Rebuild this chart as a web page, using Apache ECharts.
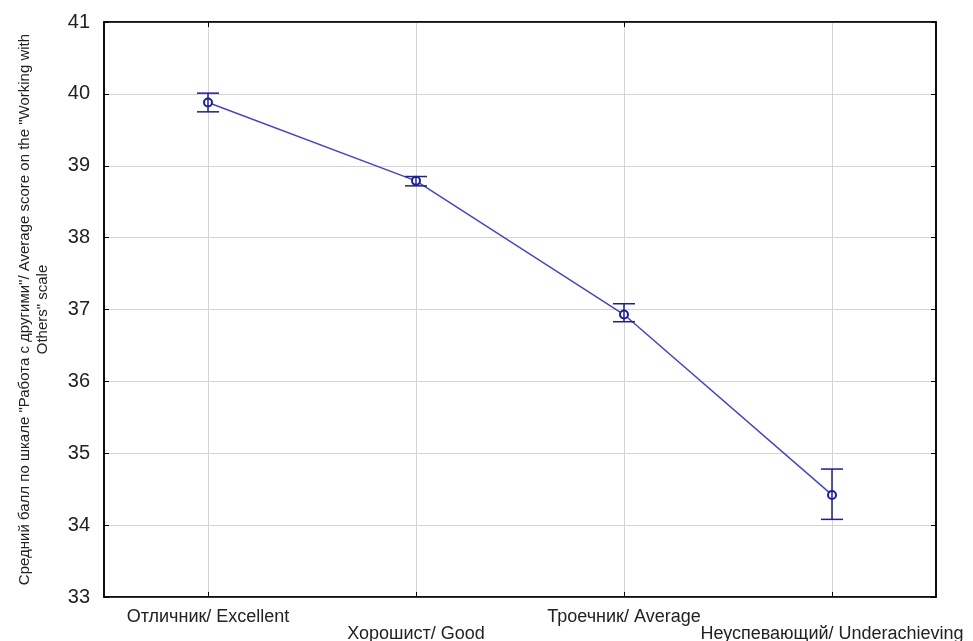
<!DOCTYPE html>
<html>
<head>
<meta charset="utf-8">
<script src="https://cdn.jsdelivr.net/npm/echarts@6/dist/echarts.min.js"></script>
<style>html,body{margin:0;padding:0;background:#fff;}#c{width:973px;height:641px;}</style>
</head>
<body>
<div id="c"></div>
<script>
const categories = ['Отличник/ Excellent', 'Хорошист/ Good', 'Троечник/ Average', 'Неуспевающий/ Underachieving'];
const means = [39.88, 38.79, 36.93, 34.42];
const lower = [39.75, 38.72, 36.83, 34.08];
const upper = [40.01, 38.85, 37.08, 34.78];
const yTicks = { min: 33, max: 41, interval: 1 };
const yName = 'Средний балл по шкале "Работа с другими"/ Average score on the "Working with\nOthers" scale';

const errData = categories.map((c, i) => [i, lower[i], upper[i]]);
const chart = echarts.init(document.getElementById('c'), null, { renderer: 'canvas' });
const font = 'Liberation Sans, Arial, sans-serif';
chart.setOption({
  backgroundColor: '#ffffff',
  animation: false,
  grid: { left: 104, right: 37, top: 22, bottom: 44, outerBoundsMode: 'none', containLabel: false, show: true, borderColor: '#000', borderWidth: 1.5, backgroundColor: 'transparent' },
  xAxis: [{
    type: 'category', data: categories, boundaryGap: true, position: 'bottom',
    axisLine: { show: true, lineStyle: { color: '#000', width: 1.5 } },
    axisTick: { show: true, inside: true, alignWithLabel: true, length: 5, lineStyle: { color: '#000' } },
    splitLine: { show: true, alignWithLabel: true, lineStyle: { color: '#d4d4d4', width: 1 } },
    axisLabel: {
      interval: 0, margin: 12, fontFamily: font, fontSize: 18, lineHeight: 17, color: '#222',
      formatter: (v, i) => (i % 2 === 1 ? '\n' + v : v)
    }
  }, {
    type: 'category', data: categories, boundaryGap: true, position: 'top',
    axisLine: { show: true, lineStyle: { color: '#000', width: 1.5 } },
    axisTick: { show: true, inside: true, alignWithLabel: true, length: 5, lineStyle: { color: '#000' } },
    axisLabel: { show: false }, splitLine: { show: false }
  }],
  yAxis: [{
    type: 'value', min: yTicks.min, max: yTicks.max, interval: yTicks.interval, position: 'left',
    name: yName, nameLocation: 'middle', nameGap: 52,
    nameTextStyle: { fontFamily: font, fontSize: 15, lineHeight: 18, color: '#222' },
    axisLine: { show: true, lineStyle: { color: '#000', width: 1.5 } },
    axisTick: { show: true, inside: true, length: 5, lineStyle: { color: '#000' } },
    splitLine: { show: true, lineStyle: { color: '#d4d4d4', width: 1 } },
    axisLabel: { margin: 14, fontFamily: font, fontSize: 20, color: '#222' }
  }, {
    type: 'value', min: yTicks.min, max: yTicks.max, interval: yTicks.interval, position: 'right',
    axisLine: { show: true, lineStyle: { color: '#000', width: 1.5 } },
    axisTick: { show: true, inside: true, length: 5, lineStyle: { color: '#000' } },
    splitLine: { show: false }, axisLabel: { show: false }
  }],
  series: [{
    type: 'line', data: means, xAxisIndex: 0, yAxisIndex: 0,
    symbol: 'emptyCircle', symbolSize: 8, showSymbol: true, z: 3,
    lineStyle: { color: '#4646c4', width: 1.5 },
    itemStyle: { color: '#1c1ca6', borderColor: '#1c1ca6', borderWidth: 2 }
  }, {
    type: 'custom', data: errData, xAxisIndex: 0, yAxisIndex: 0, z: 4,
    renderItem: function (params, api) {
      const x = api.value(0);
      const lo = api.coord([x, api.value(1)]);
      const hi = api.coord([x, api.value(2)]);
      const hw = 11;
      const style = { stroke: '#1e1e8e', lineWidth: 1.5, fill: null };
      return {
        type: 'group', children: [
          { type: 'line', shape: { x1: lo[0], y1: lo[1], x2: hi[0], y2: hi[1] }, style: style },
          { type: 'line', shape: { x1: hi[0] - hw, y1: hi[1], x2: hi[0] + hw, y2: hi[1] }, style: style },
          { type: 'line', shape: { x1: lo[0] - hw, y1: lo[1], x2: lo[0] + hw, y2: lo[1] }, style: style }
        ]
      };
    }
  }]
});
</script>
</body>
</html>
